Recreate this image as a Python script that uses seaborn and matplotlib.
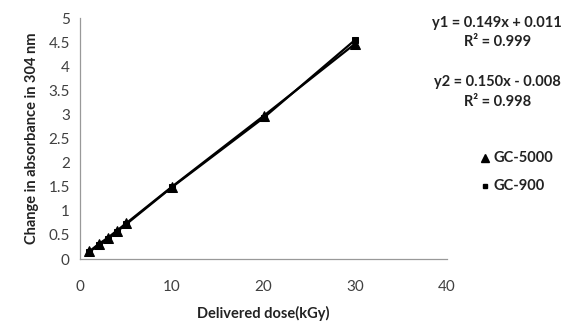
import matplotlib
matplotlib.use("Agg")
import matplotlib.pyplot as plt
import seaborn as sns
import pandas as pd

dose = [1, 2, 3, 4, 5, 10, 20, 30]
gc5000 = [0.16, 0.31, 0.44, 0.59, 0.74, 1.50, 2.97, 4.47]
gc900 = [0.15, 0.29, 0.41, 0.57, 0.72, 1.49, 2.93, 4.55]
series_names = ["GC-5000", "GC-900"]
x_ticks = [0, 10, 20, 30, 40]
y_ticks = [0, 0.5, 1, 1.5, 2, 2.5, 3, 3.5, 4, 4.5, 5]
y_tick_labels = ["0", "0.5", "1", "1.5", "2", "2.5", "3", "3.5", "4", "4.5", "5"]

df = pd.DataFrame({
    "dose": dose * 2,
    "value": gc900 + gc5000,
    "series": [series_names[1]] * len(dose) + [series_names[0]] * len(dose),
})

sns.set_style("white")
plt.rcParams['font.family'] = ['Lato', 'DejaVu Sans']

fig = plt.figure(figsize=(5.65, 3.23), dpi=100)
ax = fig.add_axes([0.142, 0.198, 0.649, 0.746])

sns.lineplot(data=df[df.series == "GC-900"], x="dose", y="value",
             marker="s", color="black", markersize=4, markeredgecolor="black",
             linewidth=1.6, legend=False, ax=ax)
sns.lineplot(data=df[df.series == "GC-5000"], x="dose", y="value",
             marker="^", color="black", markersize=6.5, markeredgecolor="black",
             linewidth=1.6, legend=False, ax=ax)

ax.set_xlim(0, 40)
ax.set_ylim(0, 5)
ax.set_xticks(x_ticks)
ax.set_yticks(y_ticks)
ax.set_yticklabels(y_tick_labels)
for s in ["top", "right"]:
    ax.spines[s].set_visible(False)
for s in ["left", "bottom"]:
    ax.spines[s].set_color("#999999")
    ax.spines[s].set_linewidth(0.9)
ax.tick_params(axis="both", direction="out", length=4, color="#999999",
               labelsize=11, labelcolor="#404040", width=0.9)
ax.tick_params(axis="x", pad=11)
ax.set_xlabel("Delivered dose(kGy)", fontsize=10.5, fontweight="bold", labelpad=9, color="#222222")
ax.set_ylabel("Change in absorbance in 304 nm", fontsize=10.5, fontweight="bold", labelpad=7, color="#222222")

fc = "#222222"
fs = 10.5
fig.text(0.88, 0.93, "y1 = 0.149x + 0.011", ha="center", va="center", fontsize=fs, fontweight="bold", color=fc)
fig.text(0.88, 0.87, "R² = 0.999", ha="center", va="center", fontsize=fs, fontweight="bold", color=fc)
fig.text(0.88, 0.745, "y2 = 0.150x - 0.008", ha="center", va="center", fontsize=fs, fontweight="bold", color=fc)
fig.text(0.88, 0.685, "R² = 0.998", ha="center", va="center", fontsize=fs, fontweight="bold", color=fc)

fig.lines.append(plt.Line2D([0.859], [0.51], marker="^", color="black", markersize=6,
                            linestyle="none", transform=fig.transFigure))
fig.lines.append(plt.Line2D([0.859], [0.425], marker="s", color="black", markersize=3.5,
                            linestyle="none", transform=fig.transFigure))
fig.text(0.873, 0.51, "GC-5000", ha="left", va="center", fontsize=fs, fontweight="bold", color=fc)
fig.text(0.873, 0.425, "GC-900", ha="left", va="center", fontsize=fs, fontweight="bold", color=fc)

fig.savefig("out.png", dpi=100, facecolor="white")
